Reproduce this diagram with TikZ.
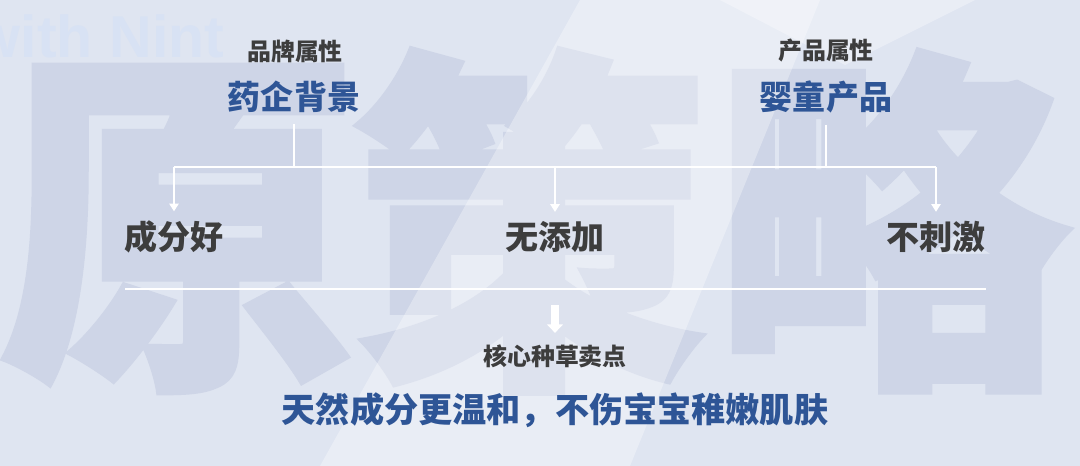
\documentclass[tikz,border=0pt]{standalone}
\usepackage{fontspec}
\usepackage{tikz}
\usetikzlibrary{arrows.meta}
\newfontfamily\cjk{Noto Sans CJK SC}
\newfontfamily\cjkfat{Noto Sans CJK SC}[BoldFeatures={FakeBold=1.6}]
\newfontfamily\latn{Liberation Sans}
\definecolor{bg}{HTML}{DFE5F1}
\definecolor{mark}{HTML}{CED5E7}
\definecolor{ghost}{HTML}{D8E2F4}
\definecolor{ink}{HTML}{3D3D3D}
\definecolor{navy}{HTML}{2E5596}
\tikzset{
  wire/.style={draw=white, line width=1.7pt},
  tip/.style={-{Triangle[width=6.5pt,length=5.5pt]}},
  fat/.style={draw=white, line width=5pt, -{Triangle[width=11pt,length=6pt]}},
  band/.style={fill=white, opacity=0.32},
  big/.style={text=mark, inner sep=0pt, font=\cjkfat\bfseries\fontsize{255}{260}\selectfont},
  attr/.style={text=ink, inner sep=0pt, font=\cjk\bfseries\fontsize{17}{20}\selectfont},
  key/.style={text=navy, inner sep=0pt, font=\cjk\bfseries\fontsize{23.5}{28}\selectfont},
  point/.style={text=ink, inner sep=0pt, font=\cjk\bfseries\fontsize{23.5}{28}\selectfont},
}

\begin{document}
\begin{tikzpicture}[x=0.25mm, y=-0.25mm]
  \useasboundingbox (0,0) rectangle (1080,466);
  \clip (0,0) rectangle (1080,466);
  \fill[bg] (0,0) rectangle (1080,466);

  % backdrop
  \node[text=ghost, anchor=base west, font=\latn\bfseries\fontsize{42}{48}\selectfont] (brandmark) at (-30,57) {with Nint};
  \node[big] (w1) at (178,229) {原};
  \node[big] (w2) at (529,221) {策};
  \node[big] (w3) at (891,221) {略};
  \fill[band] (580,0) -- (820,0) -- (630,466) -- (320,466) -- cycle;
  \fill[band] (720,0) -- (975,0) -- (845,65) -- cycle;

  % attributes
  \node[attr] (brandattr) at (295,51) {品牌属性};
  \node[key]  (brand)     at (294,97) {药企背景};
  \node[attr] (prodattr)  at (826,51) {产品属性};
  \node[key]  (prod)      at (826,97) {婴童产品};

  % selling points
  \node[point] (f1) at (174,237) {成分好};
  \node[point] (f2) at (555,237) {无添加};
  \node[point] (f3) at (936,237) {不刺激};

  \coordinate (bar) at (0,167);
  \draw[wire, shorten <=8pt] (brand.south) -- (brand |- bar);
  \draw[wire, shorten <=8pt] (prod.south) -- (prod |- bar);
  \draw[wire] (f1 |- bar) -- (f3 |- bar);
  \foreach \f in {f1,f2,f3}
    \draw[wire, tip, shorten >=6.5pt] (\f |- bar) -- (\f.north);

  \coordinate (sepL) at (125,289);
  \coordinate (sepR) at (986,289);
  \draw[wire] (sepL) -- (sepR);

  % core message
  \node[attr] (core) at (555,356) {核心种草卖点};
  \node[key, font=\cjk\bfseries\fontsize{24.3}{29}\selectfont] (slogan) at (555,410) {天然成分更温和，不伤宝宝稚嫩肌肤};
  \coordinate (drop) at (555,305);
  \draw[fat, shorten >=8pt] (drop) -- (core.north);
\end{tikzpicture}
\end{document}
